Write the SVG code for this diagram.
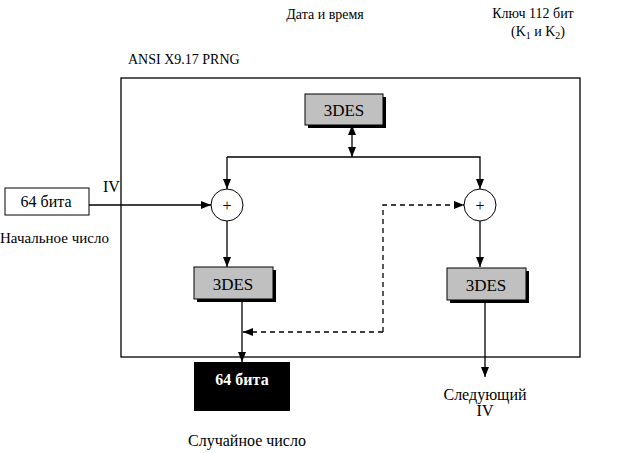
<svg xmlns="http://www.w3.org/2000/svg" width="620" height="453" viewBox="0 0 620 453">
<style>
text{font-family:"Liberation Serif","DejaVu Serif","Times New Roman",serif;fill:#000}
.t{font-size:14px}
.c{font-size:14px}
.b{font-size:17px}
.p{font-size:16px}
.ln{stroke:#000;stroke-width:1.3;fill:none}
.d{stroke:#000;stroke-width:1.3;fill:none;stroke-dasharray:5,4}
.des{fill:#c0c0c0;stroke:#000;stroke-width:1}
.sh{fill:#000}
</style>
<defs>
<marker id="a" viewBox="0 0 10 10" refX="10" refY="5" markerWidth="10" markerHeight="10" markerUnits="userSpaceOnUse" orient="auto"><path d="M0,1L10,5L0,9z" fill="#000"/></marker>
<marker id="s" viewBox="0 0 10 10" refX="0" refY="5" markerWidth="10" markerHeight="10" markerUnits="userSpaceOnUse" orient="auto"><path d="M10,1L0,5L10,9z" fill="#000"/></marker>
</defs>
<rect x="0" y="0" width="620" height="453" fill="#fff"/>
<text class="c" x="325" y="19" text-anchor="middle">Дата и время</text>
<text class="c" x="533" y="18" text-anchor="middle">Ключ 112 бит</text>
<text class="c" x="538" y="36" text-anchor="middle">(K<tspan font-size="10" dy="3">1</tspan><tspan dy="-3"> и K</tspan><tspan font-size="10" dy="3">2</tspan><tspan dy="-3">)</tspan></text>
<text class="t" x="128" y="64">ANSI X9.17 PRNG</text>
<g id="prng"><rect x="121" y="78" width="459" height="279" class="ln"/></g>
<g id="connectors">
<line x1="89" y1="205" x2="211" y2="205" class="ln" marker-end="url(#a)"/>
<line x1="352" y1="125" x2="352" y2="157" class="ln" marker-start="url(#s)" marker-end="url(#a)"/>
<polyline points="227,157 480,157 480,189" class="ln" marker-end="url(#a)"/>
<line x1="227" y1="157" x2="227" y2="189" class="ln" marker-end="url(#a)"/>
<line x1="227" y1="221" x2="227" y2="267" class="ln" marker-end="url(#a)"/>
<line x1="480" y1="221" x2="480" y2="267" class="ln" marker-end="url(#a)"/>
<line x1="242" y1="300" x2="242" y2="362" class="ln" marker-end="url(#a)"/>
<line x1="485" y1="300" x2="485" y2="377" class="ln" marker-end="url(#a)"/>
<polyline points="383,332 383,205 464,205" class="d" marker-end="url(#a)"/>
<line x1="383" y1="332" x2="243" y2="332" class="d" marker-end="url(#a)"/>
</g>
<g id="init">
<rect x="5" y="188" width="84" height="27" fill="#fff" stroke="#000" stroke-width="1"/>
<text x="46" y="207" text-anchor="middle" style="font-size:16px">64 бита</text>
<text x="103" y="192" style="font-size:16px">IV</text>
<text x="0" y="243" style="font-size:15px">Начальное число</text>
</g>
<g id="des-top">
<rect x="308" y="97" width="78" height="31" class="sh"/>
<rect x="305" y="94" width="78" height="31" class="des"/>
<text class="b" x="344" y="116" text-anchor="middle">3DES</text>
</g>
<g id="xor-left"><circle cx="227" cy="205" r="16" fill="#fff" stroke="#000" stroke-width="1"/><text class="p" x="227" y="211" text-anchor="middle">+</text></g>
<g id="xor-right"><circle cx="480" cy="205" r="16" fill="#fff" stroke="#000" stroke-width="1"/><text class="p" x="480" y="211" text-anchor="middle">+</text></g>
<g id="des-left">
<rect x="197" y="270" width="79" height="32" class="sh"/>
<rect x="194" y="267" width="79" height="32" class="des"/>
<text class="b" x="233" y="290" text-anchor="middle">3DES</text>
</g>
<g id="des-right">
<rect x="450" y="271" width="79" height="32" class="sh"/>
<rect x="447" y="268" width="79" height="32" class="des"/>
<text class="b" x="486" y="291" text-anchor="middle">3DES</text>
</g>
<g id="out">
<rect x="194" y="362" width="96" height="49" fill="#000"/>
<text x="242" y="385" text-anchor="middle" font-weight="bold" style="fill:#fff;font-size:16px">64 бита</text>
<text x="247" y="446" text-anchor="middle" style="font-size:16px">Случайное число</text>
</g>
<g id="next">
<text x="485" y="400" text-anchor="middle" style="font-size:16px">Следующий</text>
<text x="485" y="416" text-anchor="middle" style="font-size:16px">IV</text>
</g>
</svg>
